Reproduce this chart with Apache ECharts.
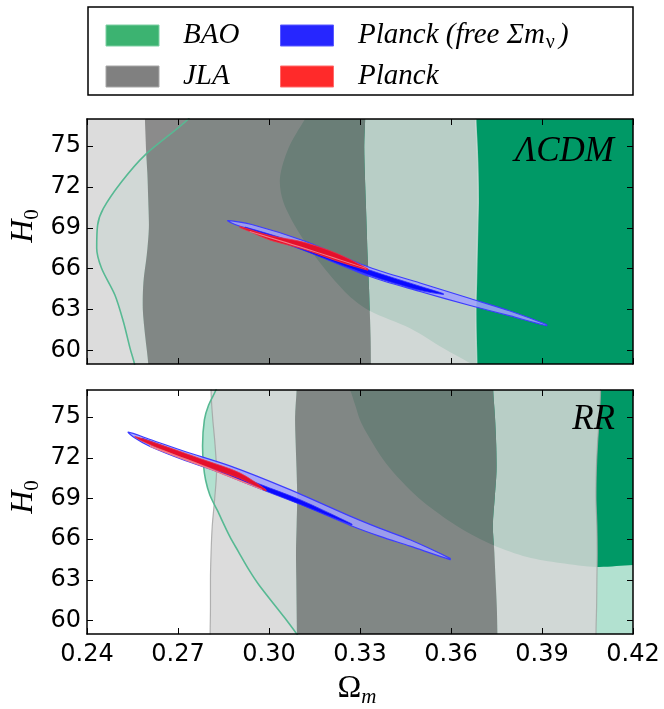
<!DOCTYPE html>
<html>
<head>
<meta charset="utf-8">
<title>BAO / JLA / Planck</title>
<script src="https://cdn.jsdelivr.net/npm/echarts@6/dist/echarts.min.js"></script>
<style>
html, body { margin: 0; padding: 0; background: #fff; }
#main { width: 664px; height: 709px; }
</style>
</head>
<body>
<div id="main"></div>
<script>
// ticks
var xTicks = [0.24, 0.27, 0.30, 0.33, 0.36, 0.39, 0.42];
var yTicks = [60, 63, 66, 69, 72, 75];

// H0 levels where the JLA strip edges were read
var jlaH = [58, 59, 61, 63, 65, 67, 69, 71, 73, 75, 77, 78];
// LCDM panel, JLA edges (Omega_m at each level)
var jla2LeftLCDM  = [0.236, 0.236, 0.236, 0.236, 0.236, 0.236, 0.236, 0.236, 0.236, 0.236, 0.236, 0.236];
var jla1LeftLCDM  = [0.2602, 0.2602, 0.2592, 0.2584, 0.2586, 0.2597, 0.2604, 0.2602, 0.2599, 0.2594, 0.2591, 0.2591];
var jla1RightLCDM = [0.3336, 0.3336, 0.3335, 0.3332, 0.3329, 0.3325, 0.3322, 0.3319, 0.3316, 0.3314, 0.3317, 0.3317];
var jla2RightLCDM = [0.3685, 0.3685, 0.3683, 0.3682, 0.3684, 0.3686, 0.3688, 0.3690, 0.3689, 0.3686, 0.3682, 0.3682];
// RR panel, JLA edges
var jla2LeftRR  = [0.2806, 0.2806, 0.2807, 0.2807, 0.2809, 0.2813, 0.2821, 0.2827, 0.2822, 0.2814, 0.2809, 0.2809];
var jla1LeftRR  = [0.3092, 0.3092, 0.3091, 0.3090, 0.3089, 0.3091, 0.3093, 0.3091, 0.3088, 0.3086, 0.3091, 0.3091];
var jla1RightRR = [0.3753, 0.3753, 0.3751, 0.3747, 0.3743, 0.3738, 0.3744, 0.3750, 0.3749, 0.3745, 0.3739, 0.3739];
var jla2RightRR = [0.4078, 0.4078, 0.4080, 0.4081, 0.4082, 0.4081, 0.4078, 0.4079, 0.4083, 0.4089, 0.4093, 0.4093];

// BAO contours [Omega_m, H0], from top to bottom
var bao2LCDM = [[0.2760,78],[0.2734,77],[0.2591,74.35],[0.2514,72.39],[0.2454,70.43],[0.2435,69.21],[0.2432,67.5],[0.2448,66.03],[0.2492,64.07],[0.2520,62.1],[0.2542,60.15],[0.2556,59.05],[0.2565,58]];
var bao1LCDM = [[0.3150,78],[0.3119,77],[0.3064,74.85],[0.3036,72.64],[0.3047,70.92],[0.3097,68.72],[0.3174,66.27],[0.3261,64.07],[0.3333,62.89],[0.3465,61.62],[0.3575,60.15],[0.3663,59.05],[0.3700,58.5]];
var bao2RR = [[0.2840,78],[0.2825,77],[0.2801,75.89],[0.2787,74.79],[0.2781,72.87],[0.2784,71.47],[0.2791,70.36],[0.2805,69.26],[0.2829,68.15],[0.2871,66.18],[0.2899,65.08],[0.2934,63.73],[0.2967,62.62],[0.3053,60.16],[0.3089,59.08],[0.3115,58.3]];
var bao1RR = [[0.3240,78],[0.3267,77],[0.3284,75.89],[0.3300,74.79],[0.3320,73.9],[0.3366,72.21],[0.3409,70.95],[0.3465,69.63],[0.3521,68.52],[0.3630,66.82],[0.3738,65.57],[0.3851,64.68],[0.3960,64.24],[0.4081,63.95],[0.4200,64.09],[0.4300,64.1]];

// Planck ellipses (outline points)
var blueOuterLCDM = [[0.2864,69.54],[0.2943,69.25],[0.3112,68.07],[0.3333,66.09],[0.3498,64.95],[0.3663,63.81],[0.3795,62.89],[0.3915,61.90],[0.3915,61.81],[0.3795,62.53],[0.3663,63.30],[0.3498,64.33],[0.3333,65.43],[0.3112,67.41],[0.2943,68.86],[0.2888,69.25]];
var blueInnerLCDM = [[0.2921,69.06],[0.3102,67.82],[0.3333,65.89],[0.3498,64.71],[0.3575,64.17],[0.3575,64.11],[0.3498,64.41],[0.3333,65.51],[0.3102,67.45],[0.2921,68.93]];
var redOuterLCDM = [[0.2904,69.10],[0.3003,68.44],[0.3112,67.96],[0.3224,67.12],[0.3326,65.99],[0.3326,65.89],[0.3224,66.57],[0.3112,67.45],[0.3003,68.11],[0.2937,68.73],[0.2904,69.03]];
var redInnerLCDM = [[0.2937,68.78],[0.3102,67.66],[0.3320,66.05],[0.3320,66.00],[0.3102,67.56],[0.2937,68.70]];

var blueOuterRR = [[0.2536,73.89],[0.2608,73.35],[0.2723,72.46],[0.2871,71.40],[0.3059,69.74],[0.3277,67.60],[0.3366,66.79],[0.3465,65.95],[0.3597,64.58],[0.3597,64.49],[0.3465,65.48],[0.3366,66.20],[0.3277,66.93],[0.3059,69.00],[0.2871,70.66],[0.2723,71.80],[0.2608,72.83],[0.2558,73.46]];
var blueInnerRR = [[0.2581,73.45],[0.2773,71.82],[0.2970,70.05],[0.3102,68.91],[0.3273,67.12],[0.3273,67.04],[0.3102,68.57],[0.2970,69.71],[0.2773,71.49],[0.2581,73.31]];
var redOuterRR = [[0.2558,73.57],[0.2674,72.72],[0.2782,71.87],[0.2904,70.88],[0.2990,69.65],[0.2990,69.55],[0.2904,70.47],[0.2782,71.43],[0.2674,72.35],[0.2581,73.24]];
var redInnerRR = [[0.2608,72.90],[0.2806,71.25],[0.2977,69.70],[0.2977,69.62],[0.2806,71.12],[0.2608,72.80]];

// legend
var legendLabels = ['BAO', 'JLA', 'Planck (free \u03a3m', 'Planck'];
var legendSubs = ['', '', '\u03bd', ''];
var legendTails = ['', '', ')', ''];
var legendFill = ['#3cb371', '#808080', '#2626ff', '#ff2a2a'];
var legendEdge = ['#7ccfa3', '#a6a6a6', '#5a5aff', '#ff6a6a'];

var panelNames = ['\u039bCDM', 'RR'];

var XR = 0.43; // beyond right edge, clipped

var ctx = document.createElement('canvas').getContext('2d');
function textW(str, font) {
	ctx.font = font;
	return ctx.measureText(str).width;
}

// strip between two JLA edges
function strip(left, right) {
	var pts = [];
	for (var i = 0; i < jlaH.length; i++) pts.push([left[i], jlaH[i]]);
	for (var j = jlaH.length - 1; j >= 0; j--) pts.push([right[j], jlaH[j]]);
	return pts;
}
function edge(xs) {
	return xs.map(function(x, i) { return [x, jlaH[i]]; });
}
// region to the right of a curve
function rightOf(curve) {
	var last = curve[curve.length - 1];
	return curve.concat([[XR, last[1]], [XR, curve[0][1]]]);
}

var zCount = 1;
function poly(g, pts, fill, stroke, lw, smooth) {
	zCount += 0.05;
	return {
		type: 'custom',
		xAxisIndex: g * 2,
		yAxisIndex: g * 2,
		clip: true,
		silent: true,
		z: zCount,
		data: pts,
		renderItem: function(params, api) {
			if(params.dataIndex !== 0) return null;
			var p = [];
			for(var i = 0; i < pts.length; i++) p.push(api.coord(pts[i]));
			return {
				type: 'polygon',
				shape: { points: p, smooth: smooth || 0 },
				style: { fill: fill, stroke: stroke || null, lineWidth: lw || 0 }
			};
		}
	};
}

function contourLine(g, pts, color, width) {
	zCount += 0.05;
	return {
		type: 'line',
		xAxisIndex: g * 2,
		yAxisIndex: g * 2,
		data: pts,
		smooth: 0.3,
		showSymbol: false,
		silent: true,
		z: zCount,
		lineStyle: { color: color, width: width }
	};
}

var JLA2 = 'rgba(214,214,214,0.86)';
var JLA1 = 'rgba(122,122,122,0.87)';
var BAO2 = '#b2e1d0';
var BAO1 = '#009966';

var panels = [
	{ bao2: bao2LCDM, bao1: bao1LCDM, j2l: jla2LeftLCDM, j1l: jla1LeftLCDM, j1r: jla1RightLCDM, j2r: jla2RightLCDM,
		bo: blueOuterLCDM, bi: blueInnerLCDM, ro: redOuterLCDM, ri: redInnerLCDM },
	{ bao2: bao2RR, bao1: bao1RR, j2l: jla2LeftRR, j1l: jla1LeftRR, j1r: jla1RightRR, j2r: jla2RightRR,
		bo: blueOuterRR, bi: blueInnerRR, ro: redOuterRR, ri: redInnerRR }
];

var series = [];
panels.forEach(function(p, g) {
	series.push(poly(g, rightOf(p.bao2), BAO2, null, 0, 0.3));
	series.push(poly(g, rightOf(p.bao1), BAO1, null, 0, 0.3));
	series.push(poly(g, strip(p.j2l, p.j1l), JLA2, null, 0, 0.3));
	series.push(poly(g, strip(p.j1r, p.j2r), JLA2, null, 0, 0.3));
	series.push(poly(g, strip(p.j1l, p.j1r), JLA1, null, 0, 0.3));
	// faint rims of the JLA 2 sigma strip
	if(g === 0) {
		series.push(contourLine(g, edge(p.j2r), 'rgba(215,226,222,0.7)', 1.4));
	} else {
		series.push(contourLine(g, edge(p.j2l), 'rgba(160,160,160,0.8)', 1.2));
		series.push(contourLine(g, edge(p.j2r), 'rgba(160,165,163,0.8)', 1.2));
	}
	series.push(contourLine(g, p.bao2, '#57b993', 1.6));
	series.push(poly(g, p.bo, 'rgba(160,160,255,0.85)', '#3c3cff', 1.2, 0.3));
	series.push(poly(g, p.bi, '#0a0aff', '#2a2aff', 0.8, 0.3));
	series.push(poly(g, p.ro, '#e5102c', '#f03040', 0.8, 0.3));
	series.push(poly(g, p.ri, '#f27a86', null, 0, 0.3));
});

function xAxisFor(g, pos, labels) {
	return {
		type: 'value', gridIndex: g, position: pos, min: 0.24, max: 0.42, z: 10,
		axisLine: { show: true, onZero: false, lineStyle: { color: '#000', width: 1.5 } },
		axisTick: { show: true, inside: true, length: 6, customValues: xTicks, lineStyle: { color: '#000', width: 1 } },
		axisLabel: {
			show: labels, customValues: xTicks, margin: 9, color: '#000',
			fontFamily: 'DejaVu Sans', fontSize: 24,
			formatter: function(v) { return Number(v).toFixed(2); }
		},
		splitLine: { show: false }
	};
}
function yAxisFor(g, pos, labels) {
	return {
		type: 'value', gridIndex: g, position: pos, min: 59, max: 77, z: 10,
		axisLine: { show: true, onZero: false, lineStyle: { color: '#000', width: 1.5 } },
		axisTick: { show: true, inside: true, length: 6, customValues: yTicks, lineStyle: { color: '#000', width: 1 } },
		axisLabel: {
			show: labels, customValues: yTicks, margin: 6, color: '#000',
			fontFamily: 'DejaVu Sans', fontSize: 24
		},
		splitLine: { show: false }
	};
}

// texts
var serifI = 'italic 29px "Liberation Serif"';
var graphics = [];
graphics.push({ type: 'rect', z: 20, shape: { x: 88, y: 7, width: 545, height: 88 },
	style: { fill: '#fff', stroke: '#000', lineWidth: 1.5 } });
var swX = [106, 280.5], txX = [183, 358], rowY = [35.5, 76.5];
legendLabels.forEach(function(lab, i) {
	var col = i < 2 ? 0 : 1, row = i % 2;
	graphics.push({ type: 'rect', z: 21, shape: { x: swX[col], y: rowY[row] - 10.5, width: 53, height: 21 },
		style: { fill: legendFill[i], stroke: legendEdge[i], lineWidth: 1 } });
	graphics.push({ type: 'text', z: 21, x: txX[col], y: rowY[row],
		style: { text: lab, font: serifI, fill: '#000', align: 'left', verticalAlign: 'middle', textAlign: 'left', textVerticalAlign: 'middle' } });
	if(legendSubs[i]) {
		var w = textW(lab, serifI);
		var subF = '20px "Liberation Serif"';
		var ws = textW(legendSubs[i], subF);
		graphics.push({ type: 'text', z: 21, x: txX[col] + w + 1, y: rowY[row] + 7,
			style: { text: legendSubs[i], font: subF, fill: '#000', align: 'left', verticalAlign: 'middle', textAlign: 'left', textVerticalAlign: 'middle' } });
		graphics.push({ type: 'text', z: 21, x: txX[col] + w + ws + 5, y: rowY[row],
			style: { text: legendTails[i], font: serifI, fill: '#000', align: 'left', verticalAlign: 'middle', textAlign: 'left', textVerticalAlign: 'middle' } });
	}
});

// panel names
graphics.push({ type: 'text', z: 21, x: 614, y: 152,
	style: { text: panelNames[0], font: 'italic 35px "Liberation Serif"', fill: '#000', align: 'right', verticalAlign: 'middle', textAlign: 'right', textVerticalAlign: 'middle' } });
graphics.push({ type: 'text', z: 21, x: 615, y: 420,
	style: { text: panelNames[1], font: 'italic 35px "Liberation Serif"', fill: '#000', align: 'right', verticalAlign: 'middle', textAlign: 'right', textVerticalAlign: 'middle' } });

// axis labels with subscripts
var labF = 'italic 32px "Liberation Serif"';
var subLabF = '21px "Liberation Serif"';
function yLabel(cy) {
	var w1 = textW('H', labF), w2 = textW('0', subLabF);
	var x0 = -(w1 + w2) / 2;
	return { type: 'group', x: 24, y: cy, rotation: Math.PI / 2, z: 21, children: [
		{ type: 'text', x: x0, y: 0, style: { text: 'H', font: labF, fill: '#000', align: 'left', verticalAlign: 'middle', textAlign: 'left', textVerticalAlign: 'middle' } },
		{ type: 'text', x: x0 + w1, y: 8, style: { text: '0', font: subLabF, fill: '#000', align: 'left', verticalAlign: 'middle', textAlign: 'left', textVerticalAlign: 'middle' } }
	] };
}
graphics.push(yLabel(226));
graphics.push(yLabel(497));
(function() {
	var oF = '32px "Liberation Serif"', mF = 'italic 21px "Liberation Serif"';
	var w1 = textW('\u03a9', oF), w2 = textW('m', mF);
	var x0 = 357 - (w1 + w2) / 2;
	graphics.push({ type: 'text', z: 21, x: x0, y: 689,
		style: { text: '\u03a9', font: oF, fill: '#000', align: 'left', verticalAlign: 'middle', textAlign: 'left', textVerticalAlign: 'middle' } });
	graphics.push({ type: 'text', z: 21, x: x0 + w1, y: 697,
		style: { text: 'm', font: mF, fill: '#000', align: 'left', verticalAlign: 'middle', textAlign: 'left', textVerticalAlign: 'middle' } });
})();

var chart = echarts.init(document.getElementById('main'));
chart.setOption({
	animation: false,
	backgroundColor: '#fff',
	grid: [
		{ left: 87, top: 119, width: 546, height: 245 },
		{ left: 87, top: 390, width: 546, height: 244 }
	],
	xAxis: [xAxisFor(0, 'bottom', false), xAxisFor(0, 'top', false), xAxisFor(1, 'bottom', true), xAxisFor(1, 'top', false)],
	yAxis: [yAxisFor(0, 'left', true), yAxisFor(0, 'right', false), yAxisFor(1, 'left', true), yAxisFor(1, 'right', false)],
	series: series,
	graphic: graphics
});
</script>
</body>
</html>
